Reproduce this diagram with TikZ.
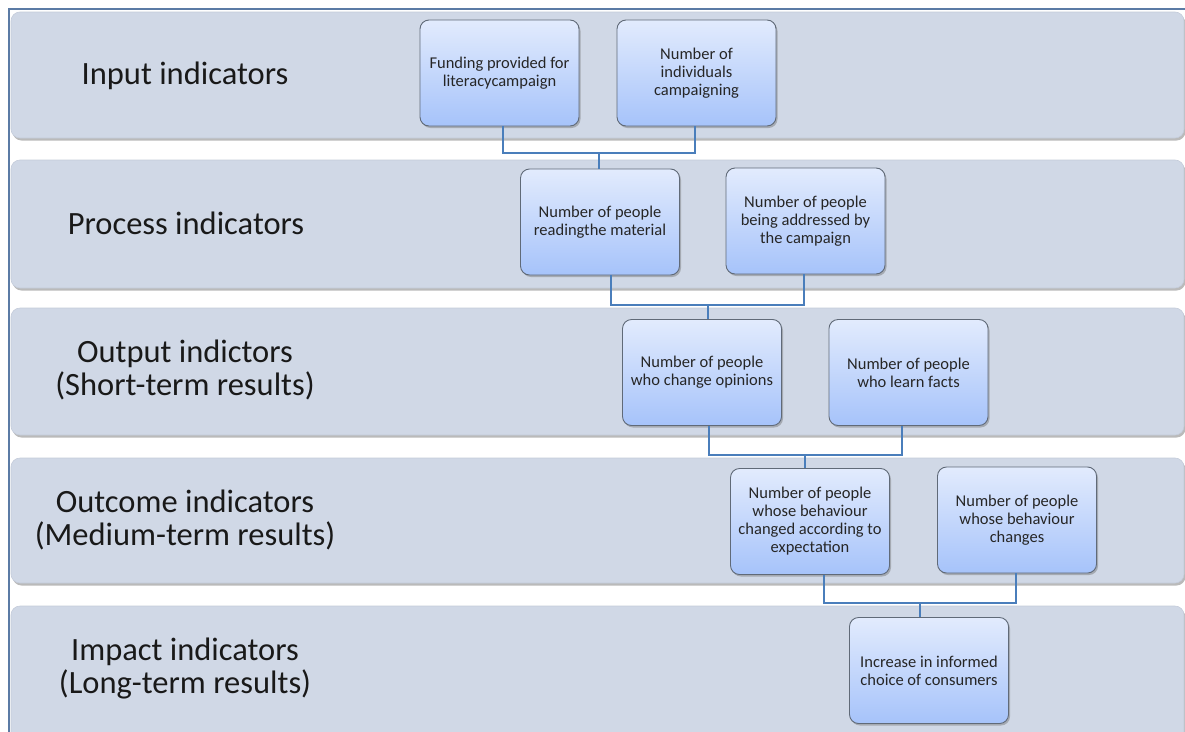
\documentclass[tikz,border=0pt]{standalone}
\usepackage{fontspec}
\setmainfont{Carlito}
\usetikzlibrary{shadows}
\definecolor{bandfill}{HTML}{D0D8E6}
\definecolor{bandedge}{HTML}{C4CCDA}
\definecolor{frameblue}{HTML}{5B7BA5}
\definecolor{linkblue}{HTML}{4A7EBB}
\definecolor{boxtop}{HTML}{E2EBFD}
\definecolor{boxbot}{HTML}{A6C3FA}
\definecolor{boxedge}{HTML}{606A78}
\tikzset{
 band/.style={fill=bandfill, draw=bandedge, line width=0.6pt, rounded corners=9pt,
   drop shadow={shadow xshift=1.5pt, shadow yshift=-2.5pt, opacity=0.45, fill=black!60}},
 bandlabel/.style={font=\fontsize{32.5}{33}\selectfont, align=center, text=black!90},
 item/.style={draw=boxedge, line width=0.9pt, rounded corners=9pt, top color=boxtop,
   bottom color=boxbot, minimum width=159pt, minimum height=106pt, align=center,
   font=\fontsize{16.5}{18}\selectfont, text=black!85, inner sep=2pt,
   drop shadow={shadow xshift=1.5pt, shadow yshift=-2pt, opacity=0.4, fill=black!60}},
 link/.style={draw=linkblue, line width=2.2pt}
}
\begin{document}
\begin{tikzpicture}[x=1pt,y=-1pt]
\clip (0,0) rectangle (1185,731);
\fill[white] (0,0) rectangle (1185,731);
% frame
\draw[frameblue, line width=2pt] (1186,9) -- (9,9) -- (9,732);
% bands
\node[band, minimum width=1173pt, minimum height=126pt] (b1) at (597.5,75) {};
\node[band, minimum width=1173pt, minimum height=128pt] (b2) at (597.5,224) {};
\node[band, minimum width=1173pt, minimum height=127pt] (b3) at (597.5,371.5) {};
\node[band, minimum width=1173pt, minimum height=125pt] (b4) at (597.5,520.5) {};
\node[band, minimum width=1173pt, minimum height=140pt] (b5) at (597.5,676) {};
% band labels
\node[bandlabel] (l1) at (185,76) {Input indicators};
\node[bandlabel] (l2) at (186,223) {Process indicators};
\node[bandlabel] (l3) at (185,370) {Output indictors\\(Short-term results)};
\node[bandlabel] (l4) at (185,520) {Outcome indicators\\(Medium-term results)};
\node[bandlabel] (l5) at (185,668) {Impact indicators\\(Long-term results)};
% junctions
\coordinate (j1) at (599,153);
\coordinate (j2) at (708,305);
\coordinate (j3) at (805,455);
\coordinate (j4) at (920,603);
% boxes
\node[item] (n1) at (499.5,73) {Funding provided for\\literacycampaign};
\node[item] (n2) at (696.5,73) {Number of\\individuals\\campaigning};
\node[item] (n3) at (600,222) {Number of people\\readingthe material};
\node[item] (n4) at (805.5,221) {Number of people\\being addressed by\\the campaign};
\node[item] (n5) at (702,372.5) {Number of people\\who change opinions};
\node[item] (n6) at (908.5,372.5) {Number of people\\who learn facts};
\node[item] (n7) at (810,521.5) {Number of people\\whose behaviour\\changed according to\\expectation};
\node[item] (n8) at (1017,520) {Number of people\\whose behaviour\\changes};
\node[item] (n9) at (929,670.5) {Increase in informed\\choice of consumers};
% connectors
\draw[link] ([xshift=3.5pt]n1.south) |- (j1) -| ([xshift=-1.5pt]n2.south);
\draw[link] (j1) -- (j1 |- n3.north);
\draw[link] ([xshift=11pt]n3.south) |- (j2) -| ([xshift=-1.5pt]n4.south);
\draw[link] (j2) -- (j2 |- n5.north);
\draw[link] ([xshift=7pt]n5.south) |- (j3) -| ([xshift=-6.5pt]n6.south);
\draw[link] (j3) -- (j3 |- n7.north);
\draw[link] ([xshift=14pt]n7.south) |- (j4) -| ([xshift=-1pt]n8.south);
\draw[link] (j4) -- (j4 |- n9.north);
\end{tikzpicture}
\end{document}
